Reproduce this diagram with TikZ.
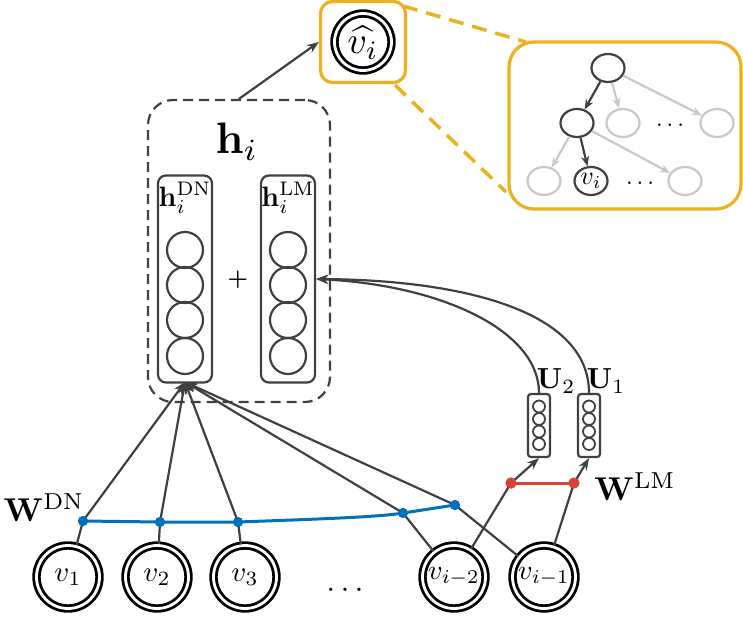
\documentclass[tikz,border=0pt]{standalone}
\usepackage{graphicx}
\usepackage{amsmath}
\usetikzlibrary{arrows.meta,shapes.geometric}
\definecolor{ln}{RGB}{64,64,64}
\definecolor{dnblue}{RGB}{0,114,189}
\definecolor{lmred}{RGB}{217,67,55}
\definecolor{hl}{RGB}{237,177,32}
\definecolor{faint}{RGB}{200,200,200}
% enlarge 10pt material by a factor
\newcommand{\bigtxt}[2]{\scalebox{#1}{#2}}
\tikzset{
  wire/.style={draw=ln, line width=2.2pt},
  arr/.style={wire, -{Stealth[length=12pt,width=9pt]}},
  dcirc/.style={circle, draw=black, line width=2.8pt, double=white, double distance=2.8pt,
    minimum size=63pt, inner sep=0pt},
  vecbox/.style={draw=ln, line width=2.2pt, rounded corners=8pt, minimum width=54pt, minimum height=207pt, inner sep=0pt},
  unit/.style={circle, draw=ln, line width=2.2pt, minimum size=36pt, inner sep=0pt},
  ubox/.style={draw=ln, line width=2.2pt, rounded corners=3pt, minimum width=22pt, minimum height=63pt, inner sep=0pt},
  uunit/.style={circle, draw=ln, line width=1.8pt, minimum size=12pt, inner sep=0pt},
  hbox/.style={draw=ln, line width=2.2pt, dash pattern=on 10pt off 6pt, rounded corners=25pt,
    minimum width=182pt, minimum height=302pt, inner sep=0pt},
  hlbox/.style={draw=hl, line width=3.2pt, rounded corners=12pt, inner sep=0pt},
  zoomline/.style={draw=hl, line width=3.5pt, dash pattern=on 15pt off 9pt},
  bdot/.style={circle, fill=dnblue, inner sep=0pt, minimum size=10pt},
  rdot/.style={circle, fill=lmred, inner sep=0pt, minimum size=11pt},
  tnode/.style={ellipse, draw=ln, line width=2.2pt, minimum width=33pt, minimum height=28pt, inner sep=0pt},
  gnode/.style={tnode, draw=faint},
  tarr/.style={draw=ln, line width=2.2pt, -{Stealth[length=10pt,width=8pt]}},
  garr/.style={draw=faint, line width=2.2pt, -{Stealth[length=10pt,width=8pt]}},
  lbl/.style={inner sep=0pt},
}
\begin{document}
\begin{tikzpicture}[x=1pt,y=-1pt]
\useasboundingbox (0,0) rectangle (743,618);

% input word nodes
\node[dcirc] (v1) at (68,577) {};
\node[dcirc] (v2) at (157,577) {};
\node[dcirc] (v3) at (245,577) {};
\node[dcirc] (vi2) at (454,577) {};
\node[dcirc] (vi1) at (544,577) {};
\node[lbl] (v1t) at (v1) {\bigtxt{2.9}{$v_1$}};
\node[lbl] (v2t) at (v2) {\bigtxt{2.9}{$v_2$}};
\node[lbl] (v3t) at (v3) {\bigtxt{2.9}{$v_3$}};
\node[lbl] (vi2t) at (vi2) {\bigtxt{2.8}{$v_{i-2}$}};
\node[lbl] (vi1t) at (vi1) {\bigtxt{2.8}{$v_{i-1}$}};
\node[lbl] (vdots) at (345,590) {\bigtxt{3.2}{$\ldots$}};

% hidden representation
\node[hbox] (hb) at (239,251) {};
\node[lbl] (hlab) at (237,142) {\bigtxt{4.4}{$\mathbf{h}_i$}};
\node[vecbox] (dn) at (185,279) {};
\node[vecbox] (lm) at (288,279) {};
\node[lbl] (dnlab) at (185,198) {\bigtxt{2.8}{$\mathbf{h}_i^{\mathrm{DN}}$}};
\node[lbl] (lmlab) at (288,198) {\bigtxt{2.8}{$\mathbf{h}_i^{\mathrm{LM}}$}};
\foreach \k/\y in {1/250,2/285,3/320,4/356} {
  \node[unit] (dn\k) at (185,\y) {};
  \node[unit] (lm\k) at (288,\y) {};
}
\node[lbl] (plus) at (238,280) {\bigtxt{2.3}{\textbf{+}}};
\coordinate (dnin) at (185,382);

% LM context vectors
\node[ubox] (u2) at (539,425.5) {};
\node[ubox] (u1) at (589,425.5) {};
\foreach \k/\y in {1/406.5,2/419,3/431.5,4/444} {
  \node[uunit] (u2\k) at (539,\y) {};
  \node[uunit] (u1\k) at (589,\y) {};
}
\node[lbl] (u2lab) at (556,381) {\bigtxt{2.9}{$\mathbf{U}_2$}};
\node[lbl] (u1lab) at (606,381) {\bigtxt{2.9}{$\mathbf{U}_1$}};

% weight sharing points
\node[bdot] (b1) at (83,521) {};
\node[bdot] (b2) at (160,522) {};
\node[bdot] (b3) at (238,522) {};
\node[bdot] (b4) at (403,513) {};
\node[bdot] (b5) at (455,505) {};
\node[rdot] (r1) at (511,483) {};
\node[rdot] (r2) at (574,483) {};

% connections into h^DN
\draw[arr] (v1) -- (b1.center) -- (dnin);
\draw[arr] (v2) -- (b2.center) -- (dnin);
\draw[arr] (v3) -- (b3.center) -- (dnin);
\draw[arr] (vi2) -- (b4.center) -- (dnin);
\draw[arr] (vi1) -- (b5.center) -- (dnin);
% connections into U
\draw[arr] (vi2) -- (r1.center) -- (u2.south);
\draw[arr] (vi1) -- (r2.center) -- (u1.south);
% U into h^LM
\draw[arr] (u2.north) .. controls (539,330) and (440,285) .. (lm.east);
\draw[arr] (u1.north) .. controls (589,310) and (460,280) .. (lm.east);

% shared weights
\draw[draw=dnblue, line width=3pt] (b1.center) -- (b2.center) -- (b3.center)
  .. controls (320,519) and (380,517) .. (b4.center) -- (b5.center);
\node[bdot] at (b1) {};
\node[bdot] at (b2) {};
\node[bdot] at (b3) {};
\node[bdot] at (b4) {};
\node[bdot] at (b5) {};
\draw[draw=lmred, line width=3pt] (r1.center) -- (r2.center);
\node[rdot] at (r1) {};
\node[rdot] at (r2) {};

\node[lbl] (wdn) at (44,508) {\bigtxt{3.3}{$\mathbf{W}^{\mathrm{DN}}$}};
\node[lbl] (wlm) at (635,487) {\bigtxt{3.3}{$\mathbf{W}^{\mathrm{LM}}$}};

% prediction
\node[hlbox, minimum width=85pt, minimum height=81pt] (vhbox) at (363,42) {};
\node[dcirc, minimum size=57pt] (vhat) at (363,42) {};
\node[lbl] (vhatt) at (363,43) {\bigtxt{3.8}{$\widehat{v_i}$}};
\draw[arr] (hb.north) -- (vhbox.west);

% zoomed tree
\node[hlbox, minimum width=232pt, minimum height=167pt, rounded corners=25pt] (zbox) at (625,125.5) {};
\draw[zoomline] (403,6) -- (526,42);
\draw[zoomline] (395,85) -- (506,192);
\node[tnode] (t0) at (608,68) {};
\node[tnode] (t1) at (577,123) {};
\node[gnode] (t2) at (623,123) {};
\node[lbl] (tdots1) at (670,125) {\bigtxt{2.4}{$\ldots$}};
\node[gnode] (t3) at (717,123) {};
\node[gnode] (t4) at (544,181) {};
\node[tnode] (t5) at (591,181) {};
\node[lbl] (t5t) at (t5) {\bigtxt{2.6}{$v_i$}};
\node[lbl] (tdots2) at (640,183) {\bigtxt{2.4}{$\ldots$}};
\node[gnode] (t6) at (685,181) {};
\draw[garr] (t0) -- (t2);
\draw[garr] (t0) -- (t3);
\draw[tarr] (t0) -- (t1);
\draw[garr] (t1) -- (t4);
\draw[garr] (t1) -- (t6);
\draw[tarr] (t1) -- (t5);
\end{tikzpicture}
\end{document}
